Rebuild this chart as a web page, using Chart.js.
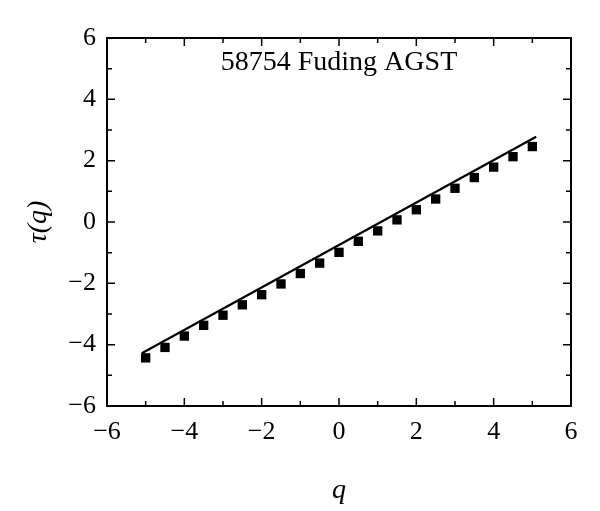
<!DOCTYPE html>
<html lang="en">
<head>
    <meta charset="UTF-8">
    <title>58754 Fuding AGST</title>
    <script src="https://cdn.jsdelivr.net/npm/chart.js"></script>
    <style>
        body { margin: 0; background: #fff; }
    </style>
</head>
<body>
    <canvas id="tauChart" width="600" height="511"></canvas>

    <script>
        // measured tau(q) values
        const qValues = [-5, -4.5, -4, -3.5, -3, -2.5, -2, -1.5, -1, -0.5, 0, 0.5, 1, 1.5, 2, 2.5, 3, 3.5, 4, 4.5, 5];
        const tauValues = [-4.43, -4.09, -3.72, -3.37, -3.04, -2.70, -2.37, -2.02, -1.68, -1.34, -0.99, -0.63, -0.29, 0.07, 0.40, 0.75, 1.10, 1.45, 1.79, 2.13, 2.46];

        // fitted line end points
        const lineQ = [-5.1, 5.1];
        const lineTau = [-4.28, 2.78];

        const xTicks = [-6, -4, -2, 0, 2, 4, 6];
        const yTicks = [-6, -4, -2, 0, 2, 4, 6];
        const stationLabel = '58754 Fuding AGST';

        const serif = "'Liberation Serif', 'DejaVu Serif', serif";
        const minus = v => String(v).replace('-', '\u2212');

        // inward major/minor ticks on all four sides, plus the frame
        const frameTicks = {
            id: 'frameTicks',
            afterDraw(chart) {
                const { ctx, chartArea: a, scales: { x, y } } = chart;
                ctx.save();
                ctx.strokeStyle = '#000';
                ctx.lineWidth = 1.5;
                for (let v = -6; v <= 6; v++) {
                    const len = v % 2 === 0 ? 8 : 5;
                    const px = x.getPixelForValue(v);
                    const py = y.getPixelForValue(v);
                    ctx.beginPath();
                    ctx.moveTo(px, a.bottom); ctx.lineTo(px, a.bottom - len);
                    ctx.moveTo(px, a.top); ctx.lineTo(px, a.top + len);
                    ctx.moveTo(a.left, py); ctx.lineTo(a.left + len, py);
                    ctx.moveTo(a.right, py); ctx.lineTo(a.right - len, py);
                    ctx.stroke();
                }
                ctx.lineWidth = 2;
                ctx.strokeRect(a.left, a.top, a.right - a.left, a.bottom - a.top);

                ctx.fillStyle = '#000';
                ctx.font = '28px ' + serif;
                ctx.textAlign = 'center';
                ctx.textBaseline = 'middle';
                ctx.fillText(stationLabel, x.getPixelForValue(0), y.getPixelForValue(5.2));
                ctx.restore();
            }
        };

        new Chart(document.getElementById('tauChart'), {
            type: 'scatter',
            data: {
                datasets: [{
                    label: 'tau(q)',
                    data: qValues.map((q, i) => ({ x: q, y: tauValues[i] })),
                    pointStyle: 'rect',
                    pointRadius: 6.6,
                    backgroundColor: '#000',
                    borderColor: '#000',
                    borderWidth: 0
                }, {
                    label: 'fit',
                    data: lineQ.map((q, i) => ({ x: q, y: lineTau[i] })),
                    showLine: true,
                    pointRadius: 0,
                    borderColor: '#000',
                    borderWidth: 2.2
                }]
            },
            options: {
                responsive: false,
                animation: false,
                layout: { padding: { top: 38, right: 29, left: 0, bottom: 0 } },
                plugins: {
                    legend: { display: false },
                    tooltip: { enabled: false }
                },
                scales: {
                    x: {
                        type: 'linear',
                        min: -6,
                        max: 6,
                        afterBuildTicks: s => { s.ticks = xTicks.map(v => ({ value: v })); },
                        afterFit: s => { s.height = 105; },
                        grid: { display: false, drawTicks: false },
                        border: { display: false },
                        ticks: {
                            padding: 11,
                            color: '#000',
                            font: { family: serif, size: 26 },
                            maxRotation: 0,
                            callback: v => minus(v)
                        },
                        title: {
                            display: true,
                            text: 'q',
                            color: '#000',
                            font: { family: serif, size: 28, style: 'italic' },
                            padding: { top: 0, bottom: 4 }
                        }
                    },
                    y: {
                        type: 'linear',
                        min: -6,
                        max: 6,
                        afterBuildTicks: s => { s.ticks = yTicks.map(v => ({ value: v })); },
                        afterFit: s => { s.width = 107; },
                        grid: { display: false, drawTicks: false },
                        border: { display: false },
                        ticks: {
                            padding: 11,
                            color: '#000',
                            font: { family: serif, size: 26 },
                            callback: v => minus(v)
                        },
                        title: {
                            display: true,
                            text: '\u03c4(q)',
                            color: '#000',
                            font: { family: serif, size: 28, style: 'italic' },
                            padding: { top: 22, bottom: 0 }
                        }
                    }
                }
            },
            plugins: [frameTicks]
        });
    </script>
</body>
</html>
